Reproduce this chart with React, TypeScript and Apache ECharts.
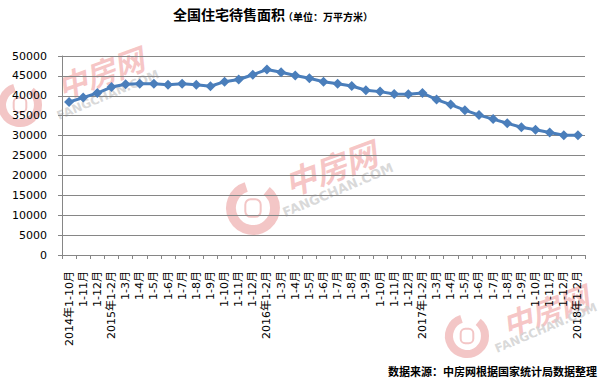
import React, { useEffect, useRef } from "react";
import * as echarts from "echarts";

const categories = [
  "2014年1-10月", "1-11月", "1-12月",
  "2015年1-2月", "1-3月", "1-4月", "1-5月", "1-6月", "1-7月", "1-8月", "1-9月", "1-10月", "1-11月", "1-12月",
  "2016年1-2月", "1-3月", "1-4月", "1-5月", "1-6月", "1-7月", "1-8月", "1-9月", "1-10月", "1-11月", "1-12月",
  "2017年1-2月", "1-3月", "1-4月", "1-5月", "1-6月", "1-7月", "1-8月", "1-9月", "1-10月", "1-11月", "1-12月",
  "2018年1-2月",
];

const values = [
  38450, 39550, 40700, 42200, 42900, 43050, 43050, 42800, 43050, 42800, 42400,
  43550, 44100, 45300, 46600, 45900, 45100, 44400, 43550, 43050, 42450, 41400,
  41050, 40450, 40400, 40700, 39050, 37800, 36400, 35150, 34150, 33100, 32100,
  31450, 30800, 30100, 30100,
];

const titleMain = "全国住宅待售面积";
const titleUnit = "（单位：万平方米）";
const footer = "数据来源：中房网根据国家统计局数据整理";

const PINK = "#f3b3b3";
const GREY = "#d2d2d2";

function watermark(cx: number, cy: number, r: number, tx: number, ty: number, fx: number, fy: number, big: number) {
  return [
    {
      type: "arc",
      shape: { cx, cy, r, startAngle: -0.9, endAngle: 4.4, clockwise: true },
      style: { stroke: "#f1bcbc", lineWidth: r * 0.45, fill: "none", opacity: 0.85 },
      z: 0,
    },
    {
      type: "rect",
      shape: { x: cx - r * 0.35, y: cy - r * 0.4, width: r * 0.7, height: r * 0.8, r: r * 0.25 },
      style: { stroke: "#f1bcbc", lineWidth: 2, fill: "none", opacity: 0.85 },
      z: 0,
    },
    {
      type: "text",
      x: tx,
      y: ty,
      rotation: 0.35,
      style: {
        text: "中房网",
        font: `italic bold ${big}px "Noto Sans CJK SC"`,
        fill: PINK,
        opacity: 0.75,
        align: "center",
        verticalAlign: "middle",
      },
      z: 0,
    },
    {
      type: "text",
      x: fx,
      y: fy,
      rotation: 0.4,
      style: {
        text: "FANGCHAN.COM",
        font: `bold ${Math.round(big * 0.4)}px "DejaVu Sans"`,
        fill: GREY,
        opacity: 0.85,
        align: "center",
        verticalAlign: "middle",
      },
      z: 0,
    },
  ];
}

export default function App() {
  const ref = useRef<HTMLDivElement>(null);
  useEffect(() => {
    if (!ref.current) return;
    const chart = echarts.init(ref.current, undefined, { renderer: "svg" });
    chart.setOption({
      animation: false,
      backgroundColor: "#ffffff",
      grid: { left: 62, right: 15, top: 56, bottom: 126, containLabel: false },
      xAxis: {
        type: "category",
        data: categories,
        boundaryGap: true,
        axisLine: { lineStyle: { color: "#868686", width: 1 } },
        axisTick: { show: true, alignWithLabel: false, length: 4, lineStyle: { color: "#868686" } },
        axisLabel: {
          interval: 0,
          rotate: 90,
          margin: 16,
          color: "#000000",
          fontSize: 11,
          fontFamily: '"DejaVu Sans", "Noto Sans CJK SC"',
        },
        splitLine: { show: false },
      },
      yAxis: {
        type: "value",
        min: 0,
        max: 50000,
        interval: 5000,
        axisLine: { show: true, lineStyle: { color: "#868686", width: 1 } },
        axisTick: { show: true, length: 4, lineStyle: { color: "#868686" } },
        axisLabel: {
          margin: 15,
          color: "#000000",
          fontSize: 11,
          fontFamily: '"DejaVu Sans"',
          formatter: (v: number) => String(v),
        },
        splitLine: { show: true, lineStyle: { color: "#868686", width: 1 } },
      },
      graphic: [
        ...watermark(20, 105, 18, 100, 72, 108, 95, 30),
        ...watermark(253, 208, 22, 330, 167, 338, 190, 32),
        ...watermark(467, 336, 18, 545, 310, 546, 328, 30),
        {
          type: "text",
          x: 173,
          y: 14,
          style: {
            text: titleMain,
            font: 'bold 14px "Noto Sans CJK SC"',
            fill: "#000000",
            verticalAlign: "middle",
          },
          z: 10,
        },
        {
          type: "text",
          x: 283,
          y: 16,
          style: {
            text: titleUnit,
            font: 'bold 10px "Noto Sans CJK SC"',
            fill: "#000000",
            verticalAlign: "middle",
          },
          z: 10,
        },
        {
          type: "text",
          x: 597,
          y: 371,
          style: {
            text: footer,
            font: 'bold 11px "Noto Sans CJK SC"',
            fill: "#000000",
            align: "right",
            verticalAlign: "middle",
          },
          z: 10,
        },
      ],
      series: [
        {
          type: "line",
          data: values,
          symbol: "diamond",
          symbolSize: 10,
          z: 5,
          lineStyle: { color: "#4a7ebb", width: 3 },
          itemStyle: { color: "#4a7ebb" },
        },
      ],
    });
    return () => chart.dispose();
  }, []);
  return (
    <div
      ref={ref}
      style={{ position: "fixed", left: 0, top: 0, width: 600, height: 381 }}
    />
  );
}
